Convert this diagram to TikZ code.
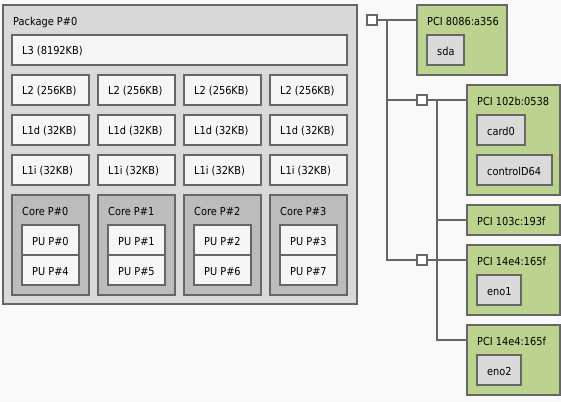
\documentclass[tikz,border=0pt]{standalone}
\usepackage{fontspec}
\setmainfont{DejaVu Sans}[FakeStretch=0.89]
\usetikzlibrary{positioning,calc}
\definecolor{cbg}{HTML}{F9F9F9}
\definecolor{cline}{HTML}{666666}
\definecolor{cpkg}{HTML}{D9D9D9}
\definecolor{ccore}{HTML}{BCBCBC}
\definecolor{cleaf}{HTML}{F6F6F6}
\definecolor{cpci}{HTML}{BBD38F}
\definecolor{cosdev}{HTML}{DADADA}

\begin{document}
\begin{tikzpicture}[x=1pt, y=-1pt, every node/.style={font=\fontsize{11}{13}\selectfont},
    box/.style={draw=cline, line width=1.1pt, anchor=north west, inner sep=0pt, outer sep=0pt},
    head/.style={label={[anchor=north west, xshift=10pt, yshift=-12pt, inner sep=0pt]north west:#1}},
    tag/.style={label={[anchor=west, xshift=10pt, yshift=-1.5pt, inner sep=0pt]west:#1}},
    leaf/.style={box, fill=cleaf, minimum height=30pt},
    osdev/.style={box, fill=cosdev, minimum height=30pt},
    pcidev/.style={box, fill=cpci, minimum width=93pt},
    bridge/.style={box, fill=white, minimum width=10pt, minimum height=10pt},
    wire/.style={draw=cline, line width=1.1pt}]
  \fill[cbg] (0,0) rectangle (561,401);
  \useasboundingbox (0,0) rectangle (561,401);

  % package with caches and cores
  \node[box, fill=cpkg, minimum width=354pt, minimum height=299pt, head={Package P\#0}] (pkg) at (3,5) {};
  \node[leaf, minimum width=335pt, tag={L3 (8192KB)}] (l3) at (12,35) {};
  \foreach \i [evaluate=\i as \j using int(\i+4)] in {0,...,3} {
    \node[leaf, minimum width=77pt, tag={L2 (256KB)}] (l2-\i) at (12+86*\i,75) {};
    \node[leaf, minimum width=77pt, tag={L1d (32KB)}] (l1d-\i) at (12+86*\i,115) {};
    \node[leaf, minimum width=77pt, tag={L1i (32KB)}] (l1i-\i) at (12+86*\i,155) {};
    \node[box, fill=ccore, minimum width=77pt, minimum height=100pt, head={Core P\#\i}] (core-\i) at (12+86*\i,195) {};
    \node[leaf, minimum width=57pt, tag={PU P\#\i}] (pua-\i) at (22+86*\i,225) {};
    \node[leaf, minimum width=57pt, tag={PU P\#\j}] (pub-\i) at (22+86*\i,255) {};
  }

  % PCI tree
  \node[bridge] (sq0) at (367,15) {};
  \node[bridge] (sq1) at (417,95) {};
  \node[bridge] (sq2) at (417,255) {};
  \node[pcidev, minimum width=90pt, minimum height=70pt, head={PCI 8086:a356}] (pci0) at (417,5) {};
  \node[osdev, minimum width=37pt, tag={sda}] (sda) at (427,35) {};
  \node[pcidev, minimum height=110pt, head={PCI 102b:0538}] (pci1) at (467,85) {};
  \node[osdev, minimum width=48pt, tag={card0}] (card0) at (477,115) {};
  \node[osdev, minimum width=75pt, tag={controlD64}] (ctrl) at (477,155) {};
  \node[pcidev, minimum height=30pt, tag={PCI 103c:193f}] (pci2) at (467,205) {};
  \node[pcidev, minimum height=70pt, head={PCI 14e4:165f}] (pci3) at (467,245) {};
  \node[osdev, minimum width=44pt, tag={eno1}] (eno1) at (477,275) {};
  \node[pcidev, minimum height=70pt, head={PCI 14e4:165f}] (pci4) at (467,325) {};
  \node[osdev, minimum width=44pt, tag={eno2}] (eno2) at (477,355) {};

  \coordinate (bus0) at ($(sq0.east)+(10,0)$);
  \coordinate (bus1) at ($(sq1.east)+(10,0)$);
  \coordinate (hook4) at ($(pci4.north west)+(0,15)$);
  \draw[wire] (sq0.east) -- (sq0.east -| pci0.west);
  \draw[wire] (bus0) |- (sq2.west);
  \draw[wire] (bus0 |- sq1.west) -- (sq1.west);
  \draw[wire] (sq1.east) -- (sq1.east -| pci1.west);
  \draw[wire] (sq2.east) -- (sq2.east -| pci3.west);
  \draw[wire] (bus1) |- (hook4);
  \draw[wire] (bus1 |- pci2.west) -- (pci2.west);
\end{tikzpicture}
\end{document}
